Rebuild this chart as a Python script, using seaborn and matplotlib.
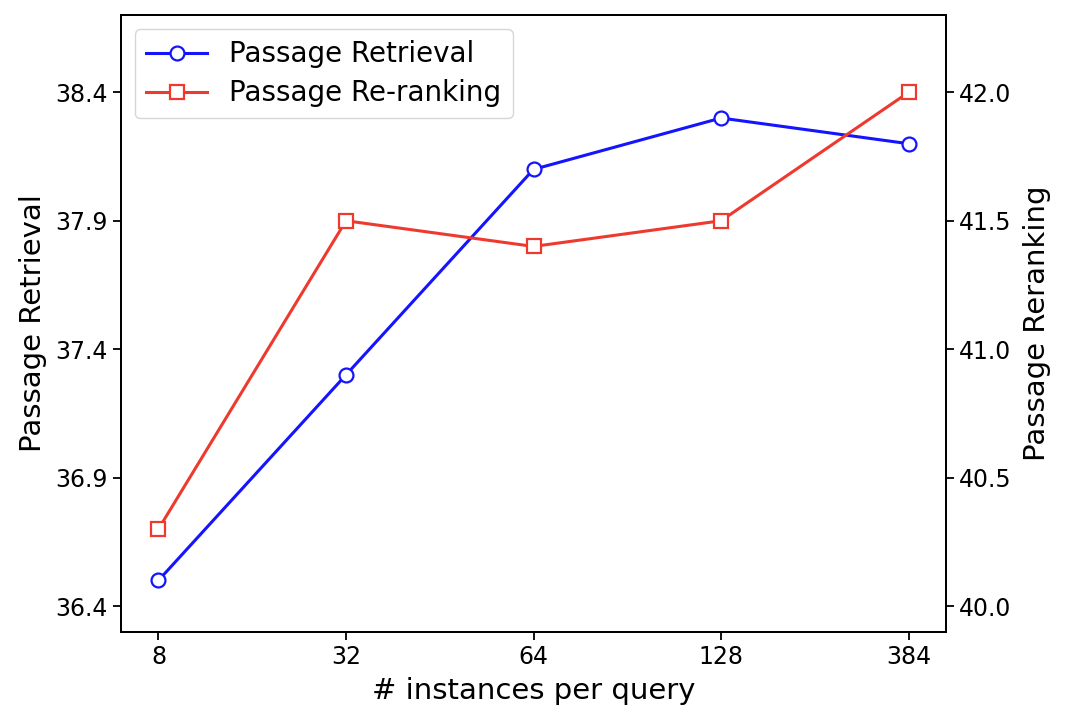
import numpy as np
import pandas as pd
import seaborn as sns
import matplotlib
matplotlib.use("Agg")
import matplotlib.pyplot as plt

instances = ["8", "32", "64", "128", "384"]
retrieval = [36.5, 37.3, 38.1, 38.3, 38.2]
reranking = [40.3, 41.5, 41.4, 41.5, 42.0]
left_ticks = [36.4, 36.9, 37.4, 37.9, 38.4]
right_ticks = [40.0, 40.5, 41.0, 41.5, 42.0]

blue = "#1414ff"
red = "#ee3a2e"

df = pd.DataFrame({"x": instances, "retrieval": retrieval, "reranking": reranking})

fig, ax = plt.subplots(figsize=(10.8, 7.27), dpi=100)
fig.subplots_adjust(left=0.112, right=0.876, top=0.979, bottom=0.131)
ax2 = ax.twinx()

sns.lineplot(data=df, x="x", y="retrieval", ax=ax, color=blue, marker="o",
             markersize=10, markerfacecolor="white", markeredgecolor=blue,
             markeredgewidth=1.6, linewidth=2.2, label="Passage Retrieval", legend=False, sort=False)
sns.lineplot(data=df, x="x", y="reranking", ax=ax2, color=red, marker="s",
             markersize=10, markerfacecolor="white", markeredgecolor=red,
             markeredgewidth=1.6, linewidth=2.2, label="Passage Re-ranking", legend=False, sort=False)

ax.set_xlim(-0.2, 4.2)
ax.set_ylim(36.3, 38.7)
ax2.set_ylim(39.9, 42.3)
ax.set_yticks(left_ticks)
ax.set_yticklabels([f"{v:.1f}" for v in left_ticks])
ax2.set_yticks(right_ticks)
ax2.set_yticklabels([f"{v:.1f}" for v in right_ticks])

ax.tick_params(labelsize=17, length=6, width=1.3)
ax2.tick_params(labelsize=17, length=6, width=1.3)
for a in (ax, ax2):
    for s in a.spines.values():
        s.set_linewidth(1.4)

ax.set_xlabel("# instances per query", fontsize=21, labelpad=6)
ax.set_ylabel("Passage Retrieval", fontsize=21, labelpad=6)
ax2.set_ylabel("Passage Reranking", fontsize=21, labelpad=8)

h1, l1 = ax.get_legend_handles_labels()
h2, l2 = ax2.get_legend_handles_labels()
ax.legend(h1 + h2, l1 + l2, loc="upper left", fontsize=20, handlelength=2.2,
          borderpad=0.4, labelspacing=0.4, borderaxespad=0.5)

fig.savefig("out.png", dpi=100)
